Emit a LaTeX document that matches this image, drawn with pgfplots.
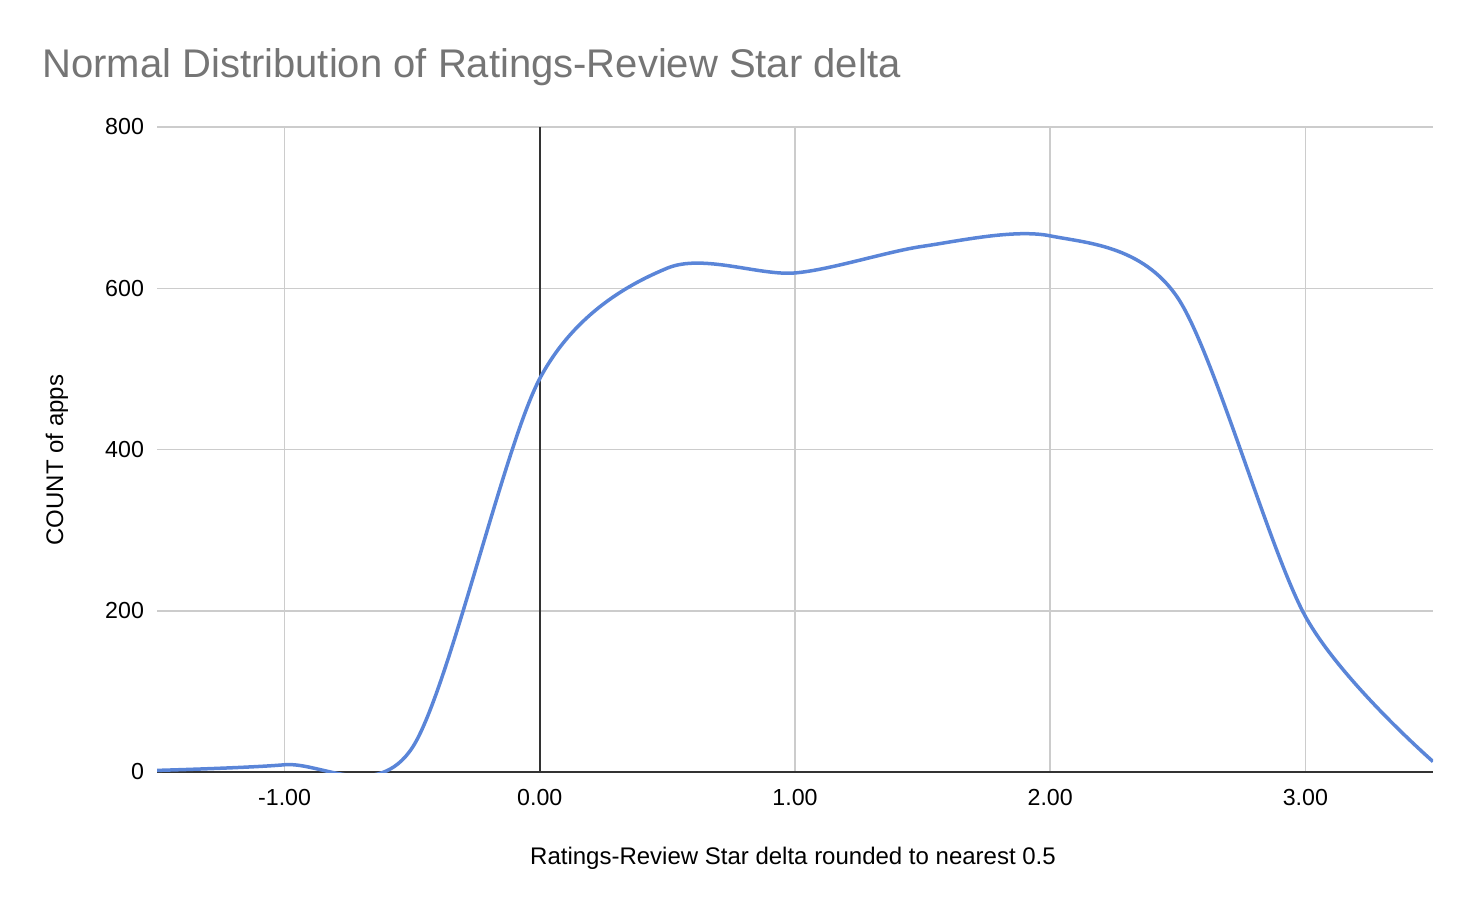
\documentclass[border=0pt]{standalone}
\usepackage{pgfplots}
\pgfplotsset{compat=1.18}
\usepackage{fontspec}
\setmainfont{Liberation Sans}
\definecolor{lineblue}{HTML}{5A85D8}
\definecolor{gridgray}{HTML}{CCCCCC}
\definecolor{titlegray}{HTML}{757575}
\definecolor{zeroline}{HTML}{333333}
\begin{document}
\begin{tikzpicture}
\path[use as bounding box] (0,0) rectangle (739pt,456pt);
\begin{axis}[
  scale only axis,
  width=638pt, height=322.5pt,
  at={(78.5pt,70pt)}, anchor=south west,
  xmin=-1.5, xmax=3.5, ymin=0, ymax=800,
  xtick={-1,1,2,3},
  extra x ticks={0},
  extra x tick style={grid style={zeroline, line width=0.75pt}},
  ytick={200,400,600,800},
  extra y ticks={0},
  extra y tick style={grid style={zeroline, line width=0.9pt}},
  grid=major,
  grid style={gridgray, line width=0.75pt},
  axis line style={draw=none},
  major tick length=0pt,
  tick label style={font=\fontsize{11.6}{13}\selectfont, black},
  /pgf/number format/assume math mode=true,
  xticklabel={\pgfmathprintnumber[fixed,precision=2,fixed zerofill]{\tick}},
  yticklabel={\pgfmathprintnumber[fixed,precision=0]{\tick}},
  xticklabel style={yshift=-5pt},
  yticklabel style={xshift=-3pt},
  clip=true,
]
\addplot[lineblue, line width=1.75pt, smooth] coordinates {
  (-1.5,2) (-1.0,9) (-0.5,30) (0.0,488) (0.5,625) (1.0,619)
  (1.5,652) (2.0,665) (2.5,588) (3.0,193) (3.5,13)
};
\end{axis}
\node[anchor=base west, font=\fontsize{20}{24}\selectfont, text=titlegray, inner sep=0pt] at (21pt,417pt) {Normal Distribution of Ratings-Review Star delta};
\node[rotate=90, font=\fontsize{12}{14}\selectfont, inner sep=0pt] at (28.5pt,226pt) {COUNT of apps};
\node[font=\fontsize{12}{14}\selectfont, inner sep=0pt] at (396.5pt,27pt) {Ratings-Review Star delta rounded to nearest 0.5};
\end{tikzpicture}
\end{document}
